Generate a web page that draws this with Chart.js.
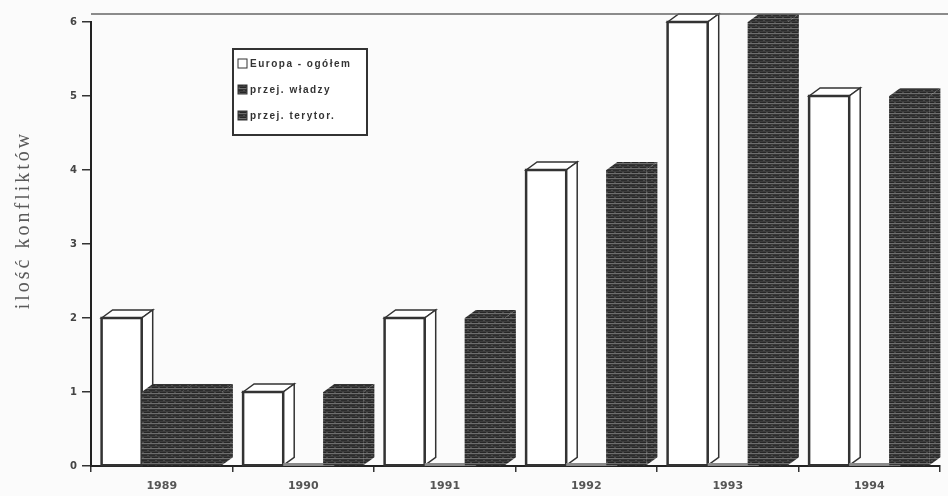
<!DOCTYPE html>
<html>
<head>
<meta charset="utf-8">
<script src="https://cdn.jsdelivr.net/npm/chart.js@4.4.0/dist/chart.umd.min.js"></script>
<style>
  html, body { margin: 0; padding: 0; background: #fbfbfb; }
  #wrap { width: 948px; height: 496px; }
</style>
</head>
<body>
<div id="wrap"><canvas id="konflikty" width="948" height="496"></canvas></div>
<script>
// dane
const years = ['1989', '1990', '1991', '1992', '1993', '1994'];
const europaOgolem = [2, 1, 2, 4, 6, 5];
const przejWladzy = [1, 0, 0, 0, 0, 0];
const przejTerytor = [1, 1, 2, 4, 6, 5];
const yTicks = [0, 1, 2, 3, 4, 5, 6];
const seriesLabels = ['Europa - ogółem', 'przej. władzy', 'przej. terytor.'];
const yTitle = 'ilość konfliktów';

const canvas = document.getElementById('konflikty');
const mainCtx = canvas.getContext('2d');

// ciemne poziome kreskowanie jak na skanie
function makeHatch() {
    const p = document.createElement('canvas');
    p.width = 8; p.height = 5;
    const g = p.getContext('2d');
    ['#2c2c2c', '#3d3d3d', '#262626', '#6e6e6e', '#353535'].forEach((c, i) => {
        g.fillStyle = c;
        g.fillRect(0, i, 8, 1);
    });
    g.fillStyle = '#4a4a4a';
    g.fillRect(3, 0, 2, 1);
    g.fillRect(6, 2, 2, 1);
    return mainCtx.createPattern(p, 'repeat');
}
const hatch = makeHatch();

const DX = 11, DY = 8;

// bryly 3D rysowane po slupkach
const bars3d = {
    id: 'bars3d',
    afterDatasetsDraw(chart) {
        const ctx = chart.ctx;
        ctx.save();
        chart.data.labels.forEach((lab, j) => {
            chart.data.datasets.forEach((ds, i) => {
                const bar = chart.getDatasetMeta(i).data[j];
                const { x, y, base, width } = bar.getProps(['x', 'y', 'base', 'width'], true);
                const l = x - width / 2, r = x + width / 2;
                const white = i === 0;
                if (Math.abs(base - y) < 1) {
                    ctx.fillStyle = '#8a8a8a';
                    ctx.fillRect(l, base - 3, width + DX, 3);
                    return;
                }
                // front
                ctx.fillStyle = white ? '#ffffff' : hatch;
                ctx.fillRect(l, y, width, base - y);
                // top
                ctx.beginPath();
                ctx.moveTo(l, y);
                ctx.lineTo(l + DX, y - DY);
                ctx.lineTo(r + DX, y - DY);
                ctx.lineTo(r, y);
                ctx.closePath();
                ctx.fillStyle = white ? '#ffffff' : hatch;
                ctx.fill();
                if (white) { ctx.strokeStyle = '#333'; ctx.lineWidth = 1.5; ctx.stroke(); }
                // side
                ctx.beginPath();
                ctx.moveTo(r, y);
                ctx.lineTo(r + DX, y - DY);
                ctx.lineTo(r + DX, base - DY);
                ctx.lineTo(r, base);
                ctx.closePath();
                ctx.fillStyle = white ? '#ffffff' : hatch;
                ctx.fill();
                if (white) {
                    ctx.stroke();
                    ctx.lineWidth = 2.5;
                    ctx.strokeRect(l, y, width, base - y);
                }
            });
        });
        ctx.restore();
    }
};

// ramka u gory, legenda i opis osi
const extras = {
    id: 'extras',
    afterDraw(chart) {
        const ctx = chart.ctx;
        const area = chart.chartArea;
        ctx.save();
        ctx.strokeStyle = '#666';
        ctx.lineWidth = 1.5;
        ctx.beginPath();
        ctx.moveTo(area.left, area.top - DY);
        ctx.lineTo(948, area.top - DY);
        ctx.stroke();

        // legenda
        ctx.fillStyle = '#ffffff';
        ctx.fillRect(233, 49, 134, 86);
        ctx.strokeStyle = '#333';
        ctx.lineWidth = 2;
        ctx.strokeRect(233, 49, 134, 86);
        ctx.font = 'bold 10px "Liberation Sans"';
        ctx.letterSpacing = '1.5px';
        ctx.textBaseline = 'middle';
        const rows = [64, 90, 116];
        chart.data.datasets.forEach((ds, i) => {
            const yy = rows[i];
            ctx.fillStyle = i === 0 ? '#ffffff' : hatch;
            ctx.fillRect(238, yy - 5, 9, 9);
            ctx.strokeStyle = '#333';
            ctx.lineWidth = 1;
            ctx.strokeRect(238, yy - 5, 9, 9);
            ctx.fillStyle = '#333';
            ctx.fillText(ds.label, 250, yy);
        });

        // tytul osi Y
        ctx.translate(24, 220);
        ctx.rotate(-Math.PI / 2);
        ctx.font = '20px "Liberation Serif"';
        ctx.letterSpacing = '3px';
        ctx.textAlign = 'center';
        ctx.fillStyle = '#5a5a5a';
        ctx.fillText(yTitle, 0, 0);
        ctx.restore();
    }
};

new Chart(canvas, {
    type: 'bar',
    data: {
        labels: years,
        datasets: [
            { label: seriesLabels[0], data: europaOgolem, backgroundColor: '#ffffff', borderColor: '#333', borderWidth: 2 },
            { label: seriesLabels[1], data: przejWladzy, backgroundColor: hatch },
            { label: seriesLabels[2], data: przejTerytor, backgroundColor: hatch }
        ]
    },
    options: {
        responsive: false,
        animation: false,
        categoryPercentage: 0.85,
        barPercentage: 1,
        layout: { padding: { top: 22, right: 8, left: 0, bottom: 0 } },
        plugins: {
            legend: { display: false },
            tooltip: { enabled: false }
        },
        scales: {
            x: {
                grid: { display: true, drawOnChartArea: false, offset: true, tickLength: 6, color: '#333', lineWidth: 1.5 },
                border: { display: true, color: '#222', width: 2 },
                ticks: { color: '#555', font: { family: 'DejaVu Sans', size: 11, weight: 'bold' }, padding: 8 },
                afterFit(s) { s.height = 30; }
            },
            y: {
                min: 0,
                max: 6,
                afterBuildTicks(s) { s.ticks = yTicks.map(v => ({ value: v })); },
                grid: { drawOnChartArea: false, tickLength: 9, color: '#333', lineWidth: 1.5 },
                border: { color: '#222', width: 2 },
                ticks: { color: '#444', font: { family: 'DejaVu Sans', size: 10, weight: 'bold' }, padding: 5 },
                afterFit(s) { s.width = 91; }
            }
        }
    },
    plugins: [bars3d, extras]
});
</script>
</body>
</html>
